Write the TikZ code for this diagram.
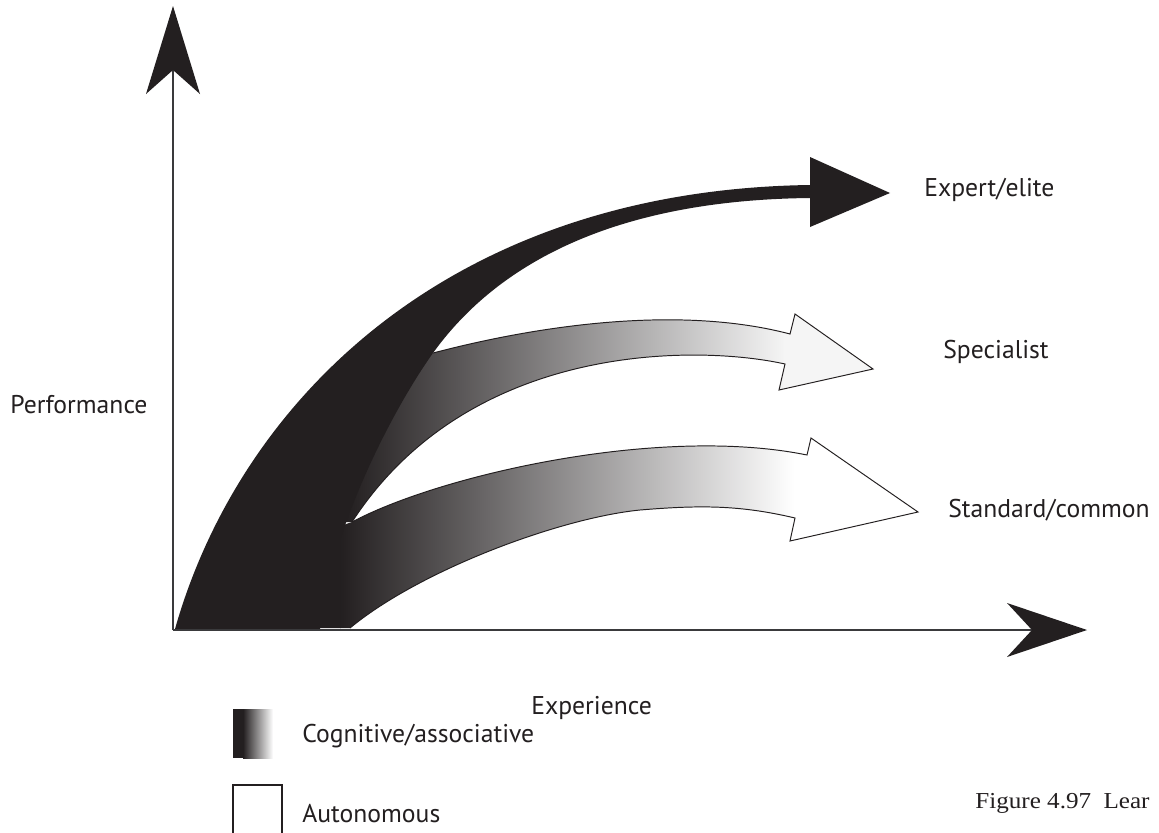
\documentclass[tikz,border=0pt]{standalone}
\usepackage{fontspec}
\setmainfont{PT Sans}
\newfontfamily\capfont[FakeStretch=1.1]{Liberation Serif}
\definecolor{ink}{HTML}{231F20}
\definecolor{axisgray}{HTML}{3A3A3C}
\definecolor{midgray}{HTML}{75767A}
\begin{document}
\begin{tikzpicture}[x=0.02cm,y=-0.02cm,
  axisline/.style={draw=axisgray,line width=0.9pt},
  headfill/.style={fill=ink},
  outline/.style={draw=ink,line width=0.55pt,line join=miter},
  lbl/.style={font=\fontsize{14.6}{17}\selectfont,text=ink,inner sep=0pt,anchor=base west},
  caption/.style={font=\capfont\fontsize{13}{16}\selectfont,text=ink,inner sep=0pt,anchor=base west}]
\useasboundingbox (0,0) rectangle (1159,832);
\fill[white] (0,0) rectangle (1159,832);

% specialist arrow (left part hidden under the black arrow)
\def\specpath{(433,353) .. controls (540,325) and (680,305) .. (790,334) -- (795,314) -- (873,369) -- (779,390) -- (785,364)
  .. controls (700,345) and (470,340) .. (352,522) -- (320,522) -- (360,380) -- cycle}
\begin{scope}
\clip \specpath;
\fill[ink] (300,300) rectangle (346,650);
\shade[left color=ink,middle color=midgray,right color=white!96!black] (345,300) rectangle (785,650);
\fill[white!96!black] (784,300) rectangle (930,650);
\end{scope}
\draw[outline] (433,353) .. controls (540,325) and (680,305) .. (790,334) -- (795,314) -- (873,369) -- (779,390) -- (785,364)
  .. controls (700,345) and (470,340) .. (352,522);

% standard arrow (left part hidden under the black arrow)
\def\stdpath{(352,522) .. controls (440,475) and (660,425) .. (807,455) -- (811,438) -- (918,512) -- (790,541) -- (795,518)
  .. controls (740,505) and (700,505) .. (640,510) .. controls (560,518) and (420,570) .. (350,628) -- (300,628)
  -- (300,540) -- cycle}
\begin{scope}
\clip \stdpath;
\fill[ink] (290,300) rectangle (341,650);
\shade[left color=ink,middle color=midgray,right color=white] (340,300) rectangle (795,650);
\fill[white] (794,300) rectangle (930,650);
\end{scope}
\draw[outline] (352,522) .. controls (440,475) and (660,425) .. (807,455) -- (811,438) -- (918,512) -- (790,541) -- (795,518)
  .. controls (740,505) and (700,505) .. (640,510) .. controls (560,518) and (420,570) .. (350,628);

% black (expert) arrow on top
\fill[ink] (175,629) .. controls (240,400) and (450,190) .. (810,185) -- (810,157) -- (890,193) -- (810,227) -- (810,198)
  .. controls (620,200) and (500,260) .. (433,353) .. controls (393,409) and (330,530) .. (320,629) -- cycle;

% axes
\coordinate (O) at (173,630);
\coordinate (Yn) at (173,70);
\coordinate (Xn) at (1032,630);
\draw[axisline] (O) -- (Yn);
\draw[axisline] (O) -- (Xn);
\fill[headfill] (173,6) -- (200,94) -- (Yn) -- (146,94) -- cycle;
\fill[headfill] (1087,630) -- (1007,603) -- (Xn) -- (1007,657) -- cycle;

% labels
\node[lbl] (perf) at (10,413) {Performance};
\node[lbl] (exp) at (531,714) {Experience};
\node[lbl] (elite) at (924,196) {Expert/elite};
\node[lbl] (spec) at (943,358) {Specialist};
\node[lbl] (std) at (948,517) {Standard/common};

% legend
\fill[ink] (233,709) rectangle (244,758);
\shade[left color=ink,right color=white] (243,709) rectangle (273,758);
\draw[ink,line width=0.6pt,fill=white] (233,785) rectangle (282,845);
\node[lbl] (cog) at (302,742) {Cognitive/associative};
\node[lbl] (aut) at (302,822) {Autonomous};

\node[caption] (fig) at (975,808) {Figure 4.97\hspace{7pt}Lear};
\end{tikzpicture}
\end{document}
